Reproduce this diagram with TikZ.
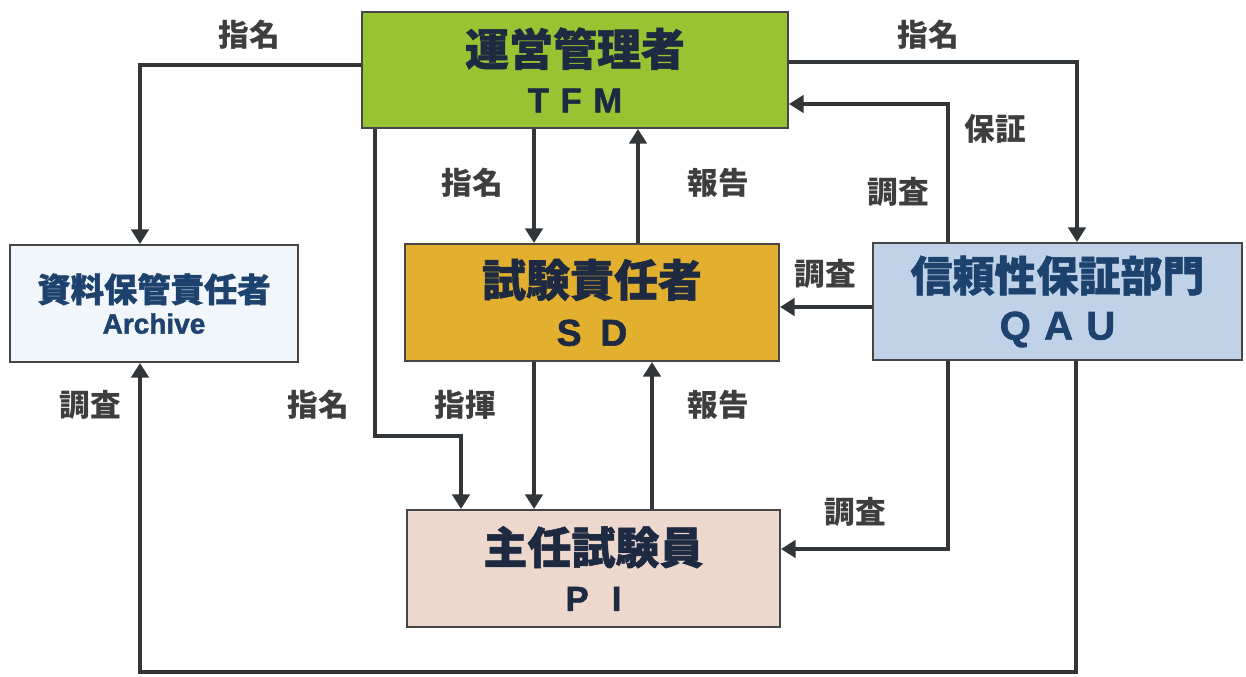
\documentclass[tikz,border=0pt]{standalone}
\usepackage{fontspec}
\setmainfont{Liberation Sans}
\newfontfamily\jp{Noto Sans CJK JP}
\newfontfamily\jpt[BoldFeatures={FakeBold=1.2}]{Noto Sans CJK JP}
\newfontfamily\lat[BoldFeatures={FakeBold=1.5}]{Liberation Sans}
\usetikzlibrary{arrows.meta}
\definecolor{tfmfill}{RGB}{152,196,52}
\definecolor{sdfill}{RGB}{226,176,46}
\definecolor{pifill}{RGB}{238,216,206}
\definecolor{qaufill}{RGB}{192,210,232}
\definecolor{arcfill}{RGB}{240,246,250}
\definecolor{boxline}{RGB}{70,70,70}
\definecolor{navy}{RGB}{30,42,66}
\definecolor{blu}{RGB}{30,66,110}
\definecolor{wire}{RGB}{50,54,56}
\definecolor{lbl}{RGB}{62,62,62}
\tikzset{
  box/.style={draw=boxline, line width=1.5pt, align=center, inner sep=0pt},
  wirearrow/.style={draw=wire, line width=3pt, -{Triangle[length=11pt,width=13pt]}},
  lab/.style={text=lbl, font=\jp\bfseries\fontsize{23}{26}\selectfont, inner sep=0pt}
}
\begin{document}
\begin{tikzpicture}[x=0.75pt,y=-0.75pt]
\useasboundingbox (0,0) rectangle (1246,676);
% boxes
\node[box, fill=tfmfill, minimum width=319.5pt, minimum height=87pt, text=navy] (tfm) at (575,70)
  {{\jpt\bfseries\fontsize{33}{36}\selectfont 運営管理者}\\[13pt]{\lat\bfseries\fontsize{26}{28}\selectfont T\,\,F\,\,M}};
\node[box, fill=arcfill, minimum width=216pt, minimum height=87.75pt, text=blu] (arch) at (154,303.5)
  {{\jpt\bfseries\fontsize{25}{28}\selectfont 資料保管責任者}\\[5pt]{\lat\bfseries\fontsize{21}{24}\selectfont Archive}};
\node[box, fill=sdfill, minimum width=280.5pt, minimum height=87.75pt, text=navy] (sd) at (592,302.5)
  {{\jpt\bfseries\fontsize{33}{36}\selectfont 試験責任者}\\[13pt]{\lat\bfseries\fontsize{28}{30}\selectfont S\,\,\,D}};
\node[box, fill=qaufill, minimum width=276.75pt, minimum height=87.75pt, text=blu] (qau) at (1057.5,301.5)
  {{\jpt\bfseries\fontsize{31.5}{34}\selectfont 信頼性保証部門}\\[11pt]{\lat\bfseries\fontsize{30}{32}\selectfont Q\,\,A\,\,U}};
\node[box, fill=pifill, minimum width=279.75pt, minimum height=87.75pt, text=navy] (pi) at (593.5,568.5)
  {{\jpt\bfseries\fontsize{33}{36}\selectfont 主任試験員}\\[13pt]{\lat\bfseries\fontsize{26}{28}\selectfont P\,\,\,\,I}};
% connectors
\draw[wirearrow] (tfm.west |- 0,65) -| (140,0 |- arch.north);
\draw[wirearrow] (tfm.east |- 0,62) -| (1077,0 |- qau.north);
\draw[wirearrow] (948,0 |- qau.north) |- (tfm.east |- 0,104);
\draw[wirearrow] (534,0 |- tfm.south) -- (534,0 |- sd.north);
\draw[wirearrow] (638,0 |- sd.north) -- (638,0 |- tfm.south);
\draw[wirearrow] (375,0 |- tfm.south) -- (375,436) -| (461,0 |- pi.north);
\draw[wirearrow] (534,0 |- sd.south) -- (534,0 |- pi.north);
\draw[wirearrow] (652,0 |- pi.north) -- (652,0 |- sd.south);
\draw[wirearrow] (qau.west |- 0,307) -- (sd.east |- 0,307);
\draw[wirearrow] (948,0 |- qau.south) |- (pi.east |- 0,549);
\draw[wirearrow] (1076,0 |- qau.south) -- (1076,672) -- (140,672) -- (140,0 |- arch.south);
% labels
\node[lab] (l1) at (249,35) {指名};
\node[lab] (l2) at (928,35) {指名};
\node[lab] (l3) at (995,129) {保証};
\node[lab] (l4) at (898,192) {調査};
\node[lab] (l5) at (825,274) {調査};
\node[lab] (l6) at (472,183) {指名};
\node[lab] (l7) at (718,183) {報告};
\node[lab] (l8) at (90,405) {調査};
\node[lab] (l9) at (318,405) {指名};
\node[lab] (l10) at (465,405) {指揮};
\node[lab] (l11) at (718,405) {報告};
\node[lab] (l12) at (855,512) {調査};
\end{tikzpicture}
\end{document}
